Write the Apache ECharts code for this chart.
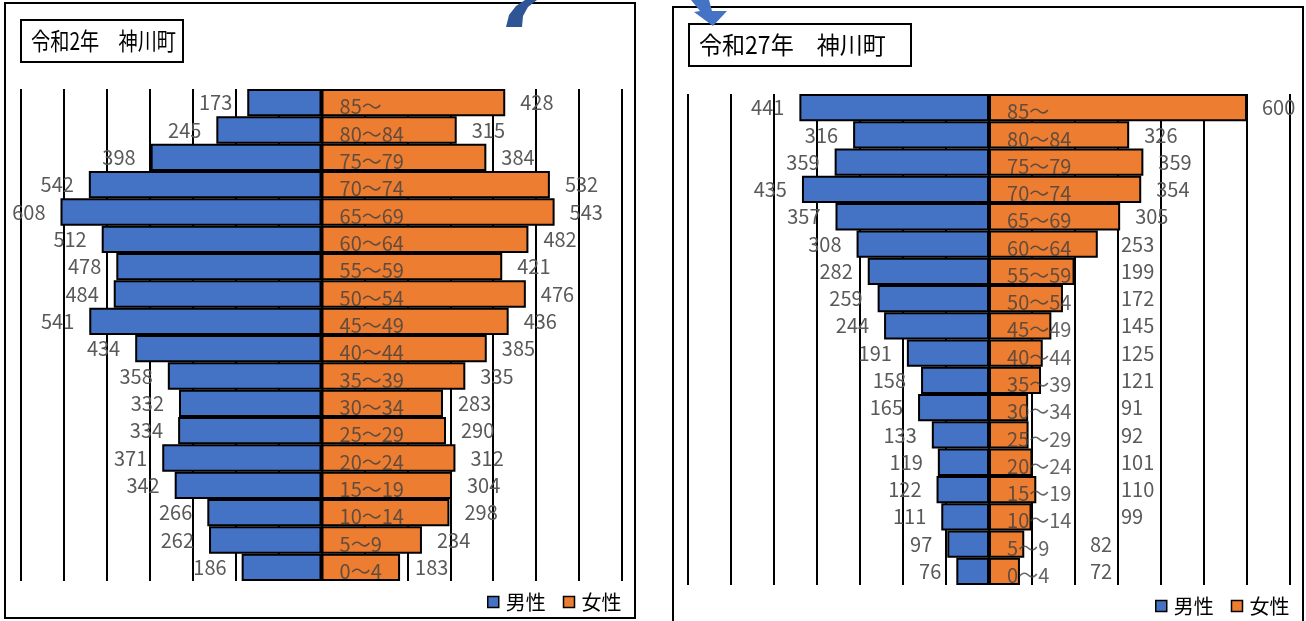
<!DOCTYPE html>
<html>
<head>
<meta charset="utf-8">
<script src="https://cdn.jsdelivr.net/npm/echarts@6/dist/echarts.min.js"></script>
<style>
html,body{margin:0;padding:0;background:#fff;}
#c{width:1306px;height:621px;}
</style>
</head>
<body>
<div id="c"></div>
<script>
// ---- data (rows top to bottom) ----
const ageGroups = ['85～','80～84','75～79','70～74','65～69','60～64','55～59','50～54','45～49','40～44','35～39','30～34','25～29','20～24','15～19','10～14','5～9','0～4'];
const titleLeft = '令和2年　神川町';
const titleRight = '令和27年　神川町';
const maleR2 = [173,245,398,542,608,512,478,484,541,434,358,332,334,371,342,266,262,186];
const femaleR2 = [428,315,384,532,543,482,421,476,436,385,335,283,290,312,304,298,234,183];
const maleR27 = [441,316,359,435,357,308,282,259,244,191,158,165,133,119,122,111,97,76];
const femaleR27 = [600,326,359,354,305,253,199,172,145,125,121,91,92,101,110,99,82,72];
const seriesNames = ['男性','女性'];

// ---- style ----
const FONT = '"Noto Sans CJK JP","Noto Sans",sans-serif';
const BLUE = '#4472C4', ORANGE = '#ED7D31';
const grids = [
  {left: 21, top: 89, width: 601, height: 492},
  {left: 688, top: 94, width: 602, height: 491}
];
// right chart: female labels of the small rows sit at a common column (in axis units)
const rightFemaleLabelFloor = [0,0,0,0,0,272,272,272,272,272,272,272,272,272,272,272,200,200];

const chart = echarts.init(document.getElementById('c'), null, {renderer: 'canvas'});

function valueLabel(pos) {
  return {show: true, position: pos, distance: 15, color: '#595959', fontSize: 20, fontFamily: FONT,
    formatter: p => String(Math.abs(Array.isArray(p.value) ? p.value[0] : p.value))};
}
function barSeries(name, idx, values, color, pos, floors) {
  const pxPerUnit = grids[idx].width / 1400;
  return {
    name, type: 'bar', xAxisIndex: idx, yAxisIndex: idx,
    barGap: '-100%', barCategoryGap: '0%',
    itemStyle: {color, borderColor: '#000', borderWidth: 2},
    label: valueLabel(pos),
    silent: true,
    data: values.map((v, i) => {
      const d = {value: name === seriesNames[0] ? -v : v};
      if (floors && floors[i] > v) d.label = {offset: [(floors[i] - v) * pxPerUnit, 0]};
      return d;
    })
  };
}
function catLabels(idx) {
  return {
    type: 'scatter', xAxisIndex: idx, yAxisIndex: idx, symbolSize: 0.1, silent: true, z: 10,
    itemStyle: {color: 'rgba(0,0,0,0)'},
    label: {show: true, position: 'right', distance: 18, offset: [0, 4], color: '#404040', fontSize: 20, fontFamily: FONT,
      formatter: p => p.value[1]},
    data: ageGroups.map(c => [0, c])
  };
}
function xAxis(idx) {
  return {gridIndex: idx, type: 'value', min: -700, max: 700, interval: 100,
    axisLine: {show: false}, axisTick: {show: false}, axisLabel: {show: false},
    splitLine: {show: true, lineStyle: {color: '#000', width: 2}}};
}
function yAxis(idx) {
  return {gridIndex: idx, type: 'category', data: ageGroups, inverse: true,
    axisLine: {show: false}, axisTick: {show: false}, axisLabel: {show: false}, splitLine: {show: false}};
}
function legend(left, top) {
  return {left, top, itemWidth: 11, itemHeight: 11, itemGap: 17, icon: 'rect',
    data: seriesNames, selectedMode: false,
    itemStyle: {borderColor: '#000', borderWidth: 1.5},
    textStyle: {fontSize: 20, fontFamily: FONT, color: '#000', padding: [0, 0, 0, 2]}};
}
function titleBox(x, y, w, h, text, fs, sx) {
  return {type: 'group', left: x, top: y, z: 50, children: [
    {type: 'rect', shape: {x: 0, y: 0, width: w, height: h}, style: {fill: '#fff', stroke: '#000', lineWidth: 2}},
    {type: 'text', x: 10, y: h / 2, scaleX: sx, style: {text, fill: '#000', font: fs + 'px ' + FONT, textVerticalAlign: 'middle'}}
  ]};
}

chart.setOption({
  animation: false,
  backgroundColor: '#fff',
  grid: grids,
  xAxis: [xAxis(0), xAxis(1)],
  yAxis: [yAxis(0), yAxis(1)],
  legend: [legend(482, 587), legend(1150, 591)],
  series: [
    barSeries(seriesNames[0], 0, maleR2, BLUE, 'left'),
    barSeries(seriesNames[1], 0, femaleR2, ORANGE, 'right'),
    catLabels(0),
    barSeries(seriesNames[0], 1, maleR27, BLUE, 'left'),
    barSeries(seriesNames[1], 1, femaleR27, ORANGE, 'right', rightFemaleLabelFloor),
    catLabels(1)
  ],
  graphic: [
    {type: 'rect', shape: {x: 5, y: 3, width: 630, height: 615}, style: {fill: 'none', stroke: '#000', lineWidth: 2}, z: 40},
    {type: 'rect', shape: {x: 673, y: 7, width: 630, height: 630}, style: {fill: 'none', stroke: '#000', lineWidth: 2}, z: 40},
    titleBox(20, 19, 162, 42, titleLeft, 24, 0.8),
    titleBox(688, 23, 222, 42, titleRight, 24, 0.96),
    {type: 'polygon', z: 60, shape: {points: [[506,27],[509,15],[516,6],[525,0],[537,0],[528,7],[523,16],[522,27]]}, style: {fill: '#2F5597'}},
    {type: 'polygon', z: 60, shape: {points: [[691,0],[709,0],[712,11],[727,11],[713,26],[694,12],[700,11]]}, style: {fill: BLUE}}
  ]
});
</script>
</body>
</html>
